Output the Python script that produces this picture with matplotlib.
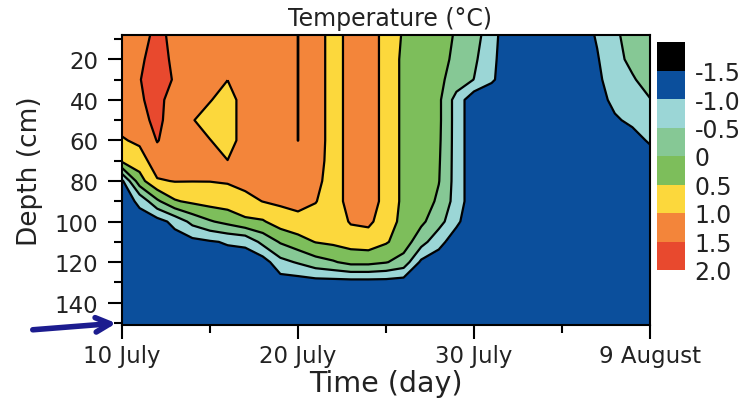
import numpy as np
import matplotlib
matplotlib.use('Agg')
import matplotlib.pyplot as plt

# depth rows (cm) and day columns (days after 10 July)
depth = [8, 20, 30, 40, 50, 60, 70, 80, 90, 100, 110, 120, 130, 140, 151]
day = list(range(31))

B = -1.25  # frozen / deep value
# one temperature profile (top -> bottom) per day
profiles = [
    [1.35, 1.35, 1.35, 1.3, 1.2, 0.95, 0.6, -1.1, B, B, B, B, B, B, B],
    [1.35, 1.42, 1.48, 1.43, 1.35, 1.1, 0.75, 0.3, -0.9, -1.2, B, B, B, B, B],
    [1.6, 1.7, 1.75, 1.7, 1.62, 1.52, 1.3, 0.95, -0.1, -1.2, B, B, B, B, B],
    [1.4, 1.4, 1.45, 1.2, 1.25, 1.3, 1.25, 1.02, 0.45, -0.85, B, B, B, B, B],
    [1.3, 1.3, 1.25, 1.15, 1.02, 1.15, 1.2, 1.01, 0.6, -0.35, -1.15, B, B, B, B],
    [1.3, 1.25, 1.1, 1.02, 0.85, 1.01, 1.15, 1.01, 0.7, -0.05, -1.05, B, B, B, B],
    [1.3, 1.2, 1.005, 0.85, 0.8, 0.85, 1.005, 1.04, 0.75, 0.15, -0.95, B, B, B, B],
    [1.3, 1.25, 1.2, 1.15, 1.2, 1.15, 1.2, 1.15, 0.85, 0.4, -0.9, B, B, B, B],
    [1.3, 1.3, 1.3, 1.25, 1.25, 1.25, 1.2, 1.15, 1.01, 0.45, -0.35, B, B, B, B],
    [1.3, 1.3, 1.3, 1.3, 1.3, 1.3, 1.25, 1.2, 1.08, 0.75, 0.05, -0.65, B, B, B],
    [1.503, 1.503, 1.503, 1.503, 1.503, 1.503, 1.3, 1.25, 1.15, 0.85, 0.3, -0.45, B, B, B],
    [1.3, 1.3, 1.3, 1.3, 1.3, 1.3, 1.25, 1.15, 1.02, 0.8, 0.52, -0.2, -1.2, B, B],
    [0.75, 0.75, 0.75, 0.75, 0.75, 0.75, 0.75, 0.75, 0.75, 0.7, 0.6, -0.05, -1.2, B, B],
    [1.2, 1.2, 1.2, 1.2, 1.2, 1.2, 1.2, 1.2, 1.2, 1.05, 0.7, 0.15, -1.2, B, B],
    [1.3, 1.3, 1.3, 1.3, 1.3, 1.3, 1.3, 1.3, 1.3, 1.1, 0.75, 0.15, -1.2, B, B],
    [0.8, 0.8, 0.8, 0.8, 0.8, 0.8, 0.8, 0.8, 0.8, 0.75, 0.55, 0.03, -1.2, B, B],
    [0.45, 0.4, 0.4, 0.4, 0.4, 0.4, 0.4, 0.4, 0.4, 0.35, 0.25, -0.2, B, B, B],
    [0.35, 0.35, 0.35, 0.35, 0.35, 0.35, 0.35, 0.3, 0.3, 0.1, -0.3, -1.1, B, B, B],
    [0.2, 0.15, 0.1, 0.1, 0.1, 0.08, 0.05, 0.02, -0.1, -0.3, -0.85, B, B, B, B],
    [-0.05, -0.1, -0.2, -0.7, -0.7, -0.7, -0.7, -0.7, -0.7, -0.9, B, B, B, B, B],
    [-0.25, -0.4, -0.51, -1.35, -1.35, -1.35, -1.35, -1.35, -1.35, -1.35, -1.3, B, B, B, B],
    [-0.85, -0.9, -0.94, -1.3, -1.3, -1.3, -1.3, -1.3, -1.3, -1.3, -1.3, B, B, B, B],
    [B] * 15,
    [B] * 15,
    [B] * 15,
    [B] * 15,
    [B] * 15,
    [-0.95, -1.04, -1.1, -1.15, B, B, B, B, B, B, B, B, B, B, B],
    [-0.6, -0.65, -0.75, -0.9, -1.05, B, B, B, B, B, B, B, B, B, B],
    [-0.27, -0.38, -0.55, -0.75, -0.92, -1.15, B, B, B, B, B, B, B, B, B],
    [-0.2, -0.25, -0.3, -0.52, -0.75, -0.95, -1.2, B, B, B, B, B, B, B, B],
]
temp = np.array(profiles).T

levels = [-2.0, -1.5, -1.0, -0.5, 0.0, 0.5, 1.0, 1.5, 2.0]
level_labels = ['-1.5', '-1.0', '-0.5', '0', '0.5', '1.0', '1.5', '2.0']
colors = ['#000000', '#0b4f9c', '#9bd6d6', '#86c895',
          '#7dbe5b', '#fcd83c', '#f3853a', '#e8492e']

xticks = [0, 10, 20, 30]
xlabels = ['10 July', '20 July', '30 July', '9 August']

plt.rcParams['font.family'] = ['DejaVu Sans']
plt.rcParams['text.color'] = '#222222'

W, H = 745, 402
fig = plt.figure(figsize=(W / 100, H / 100), dpi=100)
ax = fig.add_axes([122 / W, 1 - 326 / H, 528 / W, 290 / H])

cf = ax.contourf(day, depth, temp, levels=levels, colors=colors)
ax.contour(day, depth, temp, levels=levels[1:-1], colors='k',
           linewidths=1.6, linestyles='solid')

ax.set_xlim(0, 30)
ax.set_ylim(151, 8)
ax.set_xticks(xticks)
ax.set_xticklabels(xlabels)
ax.set_xticks([5, 15, 25], minor=True)
ax.set_yticks([20, 40, 60, 80, 100, 120, 140])
ax.set_yticks([10, 30, 50, 70, 90, 110, 130, 150], minor=True)
ax.tick_params(which='major', length=10, width=1.5, labelsize=16.5,
               labelcolor='#222222')
ax.tick_params(axis='x', which='major', pad=4)
ax.tick_params(axis='y', which='major', pad=7)
ax.tick_params(which='minor', length=6, width=1.5)
for s in ax.spines.values():
    s.set_linewidth(1.5)

fig.text(30 / W, 1 - 171 / H, 'Depth (cm)', rotation=90, ha='center', va='center', fontsize=19)
fig.text(386 / W, 1 - 384 / H, 'Time (day)', ha='center', va='center', fontsize=20.5)
fig.text(390 / W, 1 - 19 / H, 'Temperature (°C)', ha='center', va='center', fontsize=17)

# colour bar, -2 at the top
cax = fig.add_axes([657 / W, 1 - 271 / H, 28 / W, 228 / H])
cb = fig.colorbar(cf, cax=cax, ticks=levels[1:])
cb.set_ticklabels(level_labels)
cax.invert_yaxis()
cb.outline.set_visible(False)
cax.tick_params(length=0, labelsize=17, pad=7, labelcolor='#222222')

# arrow marking the bottom of the profile
fig.add_artist(matplotlib.patches.FancyArrowPatch(
    (30, H - 331), (119, H - 324), transform=None,
    arrowstyle='->', mutation_scale=26, color='#1c1c8f', lw=4))

fig.savefig('out.png', dpi=100)
